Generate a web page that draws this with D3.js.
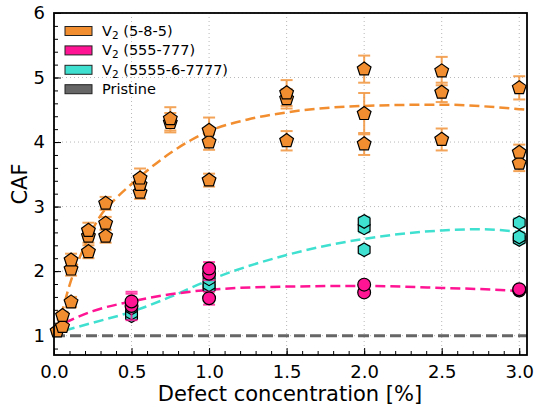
<!DOCTYPE html>
<html>
<head>
<meta charset="utf-8">
<script src="https://cdn.jsdelivr.net/npm/d3@7"></script>
<style>
  html, body { margin: 0; padding: 0; background: #fff; }
  svg { display: block; font-family: "DejaVu Sans", sans-serif; }
</style>
</head>
<body>
<svg id="chart" width="536" height="408"></svg>
<script>
// Carbon atom fraction (CAF) vs. defect concentration for three divacancy types

// V2 (5-8-5): concentration, CAF, error
const x585 = [0.02, 0.055, 0.055, 0.11, 0.11, 0.11, 0.222, 0.222, 0.222, 0.333, 0.333, 0.333,
              0.555, 0.555, 0.555, 0.75, 0.75, 1.0, 1.0, 1.0, 1.5, 1.5, 1.5,
              2.0, 2.0, 2.0, 2.5, 2.5, 2.5, 3.0, 3.0, 3.0];
const y585 = [1.07, 1.14, 1.31, 1.52, 2.03, 2.17, 2.30, 2.54, 2.63, 2.54, 2.74, 3.05,
              3.22, 3.34, 3.44, 4.30, 4.36, 3.41, 4.00, 4.18, 4.02, 4.67, 4.76,
              3.97, 4.44, 5.13, 4.04, 4.77, 5.10, 3.67, 3.84, 4.84];
const e585 = [0.04, 0.05, 0.06, 0.08, 0.10, 0.10, 0.10, 0.10, 0.12, 0.10, 0.10, 0.10,
              0.10, 0.10, 0.15, 0.15, 0.18, 0.10, 0.12, 0.20, 0.15, 0.15, 0.20,
              0.17, 0.32, 0.21, 0.17, 0.15, 0.22, 0.12, 0.12, 0.18];

// V2 (555-777)
const x555 = [0.5, 0.5, 1.0, 1.0, 1.0, 2.0, 2.0, 3.0, 3.0];
const y555 = [1.46, 1.53, 1.58, 1.96, 2.04, 1.67, 1.79, 1.70, 1.72];
const e555 = [0.22, 0.12, 0.10, 0.10, 0.10, 0.05, 0.05, 0.04, 0.04];

// V2 (5555-6-7777)
const x5555 = [0.5, 0.5, 0.5, 1.0, 1.0, 1.0, 2.0, 2.0, 2.0, 3.0, 3.0, 3.0];
const y5555 = [1.31, 1.35, 1.43, 1.75, 1.79, 1.88, 2.33, 2.67, 2.77, 2.49, 2.53, 2.75];
const e5555 = [0.05, 0.05, 0.05, 0.05, 0.05, 0.06, 0.06, 0.07, 0.07, 0.06, 0.06, 0.07];

// Fitted trend curves (concentration, CAF)
const fitX585 = [0.02, 0.05, 0.10, 0.20, 0.30, 0.40, 0.50, 0.75, 1.00, 1.25, 1.50, 2.00, 2.50, 3.00, 3.05];
const fitY585 = [1.08, 1.35, 1.78, 2.40, 2.86, 3.13, 3.35, 3.83, 4.17, 4.35, 4.46, 4.56, 4.58, 4.51, 4.50];
const fitX555 = [0.07, 0.25, 0.50, 0.75, 1.00, 1.50, 2.00, 2.50, 3.00, 3.05];
const fitY555 = [1.20, 1.38, 1.53, 1.64, 1.71, 1.76, 1.77, 1.74, 1.69, 1.68];
const fitX5555 = [0.07, 0.25, 0.50, 0.75, 1.00, 1.50, 2.00, 2.50, 2.75, 3.00, 3.05];
const fitY5555 = [1.08, 1.20, 1.37, 1.60, 1.86, 2.25, 2.50, 2.63, 2.65, 2.61, 2.60];

const pristineCAF = 1.0;

const xTicks = [0.0, 0.5, 1.0, 1.5, 2.0, 2.5, 3.0];
const yTicks = [1, 2, 3, 4, 5, 6];

const legendLabels = ["5-8-5", "555-777", "5555-6-7777", "Pristine"];

const cOrange = "#f28e2f";
const cPink = "#ff1493";
const cTeal = "#40e0d0";
const cGray = "#666666";

const svg = d3.select("#chart");
const mLeft = 54, mRight = 527, mTop = 13, mBottom = 355;

const x = d3.scaleLinear().domain([0, 3.05]).range([mLeft, mRight]);
const y = d3.scaleLinear().domain([0.7, 6]).range([mBottom, mTop]);

// Grid
const grid = svg.append("g").attr("stroke", "#b8b8b8").attr("stroke-width", 1)
  .attr("stroke-dasharray", "1,3");
xTicks.forEach(t => grid.append("line").attr("x1", x(t)).attr("x2", x(t)).attr("y1", mTop).attr("y2", mBottom));
yTicks.forEach(t => grid.append("line").attr("x1", mLeft).attr("x2", mRight).attr("y1", y(t)).attr("y2", y(t)));

// Axes with inward ticks
const xAxis = d3.axisBottom(x).tickValues(xTicks).tickFormat(d3.format(".1f")).tickSizeInner(-7).tickSizeOuter(0).tickPadding(10);
const xMinor = d3.axisBottom(x).tickValues(d3.range(0, 3.05, 0.1)).tickFormat("").tickSizeInner(-4).tickSizeOuter(0);
const yAxis = d3.axisLeft(y).tickValues(yTicks).tickFormat(d3.format("d")).tickSizeInner(-7).tickSizeOuter(0).tickPadding(9);
const yMinor = d3.axisLeft(y).tickValues(d3.range(0.8, 6.0, 0.2)).tickFormat("").tickSizeInner(-4).tickSizeOuter(0);

function styleAxis(g) {
  g.select(".domain").remove();
  g.selectAll(".tick line").attr("stroke", "#000").attr("stroke-width", 1);
  g.selectAll(".tick text").attr("fill", "#000").style("font-size", "18px").style("font-family", "DejaVu Sans");
}
svg.append("g").attr("transform", `translate(0,${mBottom})`).call(xMinor).call(styleAxis);
svg.append("g").attr("transform", `translate(0,${mBottom})`).call(xAxis).call(styleAxis);
svg.append("g").attr("transform", `translate(${mLeft},0)`).call(yMinor).call(styleAxis);
svg.append("g").attr("transform", `translate(${mLeft},0)`).call(yAxis).call(styleAxis);

// Curves
const line = d3.line().x(d => x(d[0])).y(d => y(d[1])).curve(d3.curveMonotoneX);
const plot = svg.append("g");
plot.append("line").attr("x1", x(0)).attr("x2", mRight).attr("y1", y(pristineCAF)).attr("y2", y(pristineCAF))
  .attr("stroke", cGray).attr("stroke-width", 3).attr("stroke-dasharray", "11,5");
[[fitX5555, fitY5555, cTeal], [fitX555, fitY555, cPink], [fitX585, fitY585, cOrange]].forEach(([xs, ys, c]) => {
  plot.append("path").datum(xs.map((v, i) => [v, ys[i]])).attr("d", line)
    .attr("fill", "none").attr("stroke", c).attr("stroke-width", 2.5).attr("stroke-dasharray", "10,5");
});

// Error bars and markers
function series(xs, ys, es, color, shape, size) {
  const g = plot.append("g");
  const data = xs.map((v, i) => ({ x: v, y: ys[i], e: es[i] }));
  const eb = g.append("g").attr("stroke", color).attr("stroke-width", 2).attr("opacity", 0.8);
  data.forEach(d => {
    eb.append("line").attr("x1", x(d.x)).attr("x2", x(d.x)).attr("y1", y(d.y - d.e)).attr("y2", y(d.y + d.e));
    [d.y - d.e, d.y + d.e].forEach(v => eb.append("line").attr("x1", x(d.x) - 6).attr("x2", x(d.x) + 6).attr("y1", y(v)).attr("y2", y(v)));
  });
  g.append("g").selectAll("path").data(data).join("path")
    .attr("d", d3.symbol().type(shape).size(size))
    .attr("transform", d => `translate(${x(d.x)},${y(d.y)})`)
    .attr("fill", color).attr("stroke", "#000").attr("stroke-width", 1.2);
}
const pentagon = {
  draw(ctx, size) {
    const r = Math.sqrt(size / 2.378);
    for (let i = 0; i < 5; i++) {
      const a = -Math.PI / 2 + i * 2 * Math.PI / 5;
      if (i === 0) ctx.moveTo(r * Math.cos(a), r * Math.sin(a)); else ctx.lineTo(r * Math.cos(a), r * Math.sin(a));
    }
    ctx.closePath();
  }
};
const hexagon = {
  draw(ctx, size) {
    const r = Math.sqrt(size / 2.598);
    for (let i = 0; i < 6; i++) {
      const a = -Math.PI / 2 + i * Math.PI / 3;
      if (i === 0) ctx.moveTo(r * Math.cos(a), r * Math.sin(a)); else ctx.lineTo(r * Math.cos(a), r * Math.sin(a));
    }
    ctx.closePath();
  }
};
series(x5555, y5555, e5555, cTeal, hexagon, 2.598 * 6.8 * 6.8);
series(x555, y555, e555, cPink, d3.symbolCircle, Math.PI * 6.4 * 6.4);
series(x585, y585, e585, cOrange, pentagon, 2.378 * 7.2 * 7.2);

// Frame
svg.append("rect").attr("x", mLeft).attr("y", mTop).attr("width", mRight - mLeft).attr("height", mBottom - mTop)
  .attr("fill", "none").attr("stroke", "#000").attr("stroke-width", 1.8);

// Axis titles
svg.append("text").attr("x", 290).attr("y", 401).attr("text-anchor", "middle")
  .style("font-size", "21px").text("Defect concentration [%]");
svg.append("text").attr("transform", `translate(27,${(mTop + mBottom) / 2}) rotate(-90)`).attr("text-anchor", "middle")
  .style("font-size", "21px").text("CAF");

// Legend
const legColors = [cOrange, cPink, cTeal, cGray];
const leg = svg.append("g");
legendLabels.forEach((lab, i) => {
  const cy = 31 + i * 19.4;
  leg.append("rect").attr("x", 65).attr("y", cy - 4.5).attr("width", 27).attr("height", 9)
    .attr("fill", legColors[i]).attr("stroke", "#222").attr("stroke-width", 1);
  const t = leg.append("text").attr("x", 102).attr("y", cy + 5).style("font-size", "14.5px");
  if (i < 3) {
    t.append("tspan").text("V");
    t.append("tspan").attr("dy", 3).style("font-size", "10.5px").text("2");
    t.append("tspan").attr("dy", -3).text(" (" + lab + ")");
  } else {
    t.text(lab);
  }
});
</script>
</body>
</html>
